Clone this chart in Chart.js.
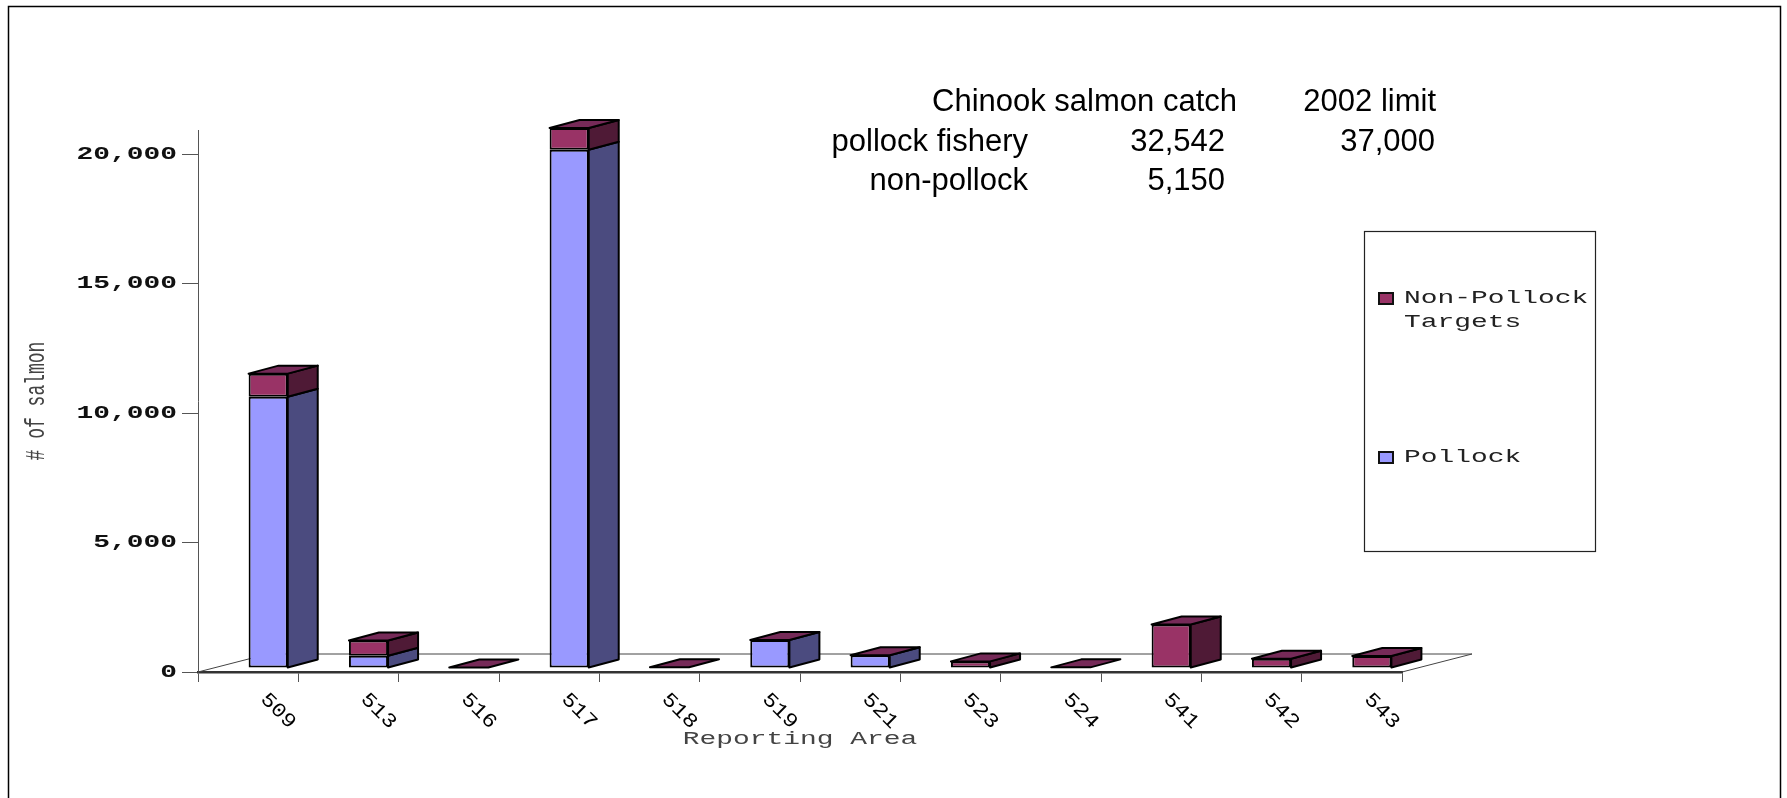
<!DOCTYPE html>
<html lang="en">
<head>
<meta charset="UTF-8">
<title>Chinook salmon catch by reporting area</title>
<script src="https://cdn.jsdelivr.net/npm/chart.js"></script>
<style>
    html, body {
        margin: 0;
        padding: 0;
        background: #fff;
    }
    canvas {
        display: block;
    }
</style>
</head>
<body>
<canvas id="salmonChart" width="1787" height="798"></canvas>
<script>
// data
const areas = ['509', '513', '516', '517', '518', '519', '521', '523', '524', '541', '542', '543'];
const pollock = [10480, 470, 0, 20020, 0, 1080, 490, 0, 0, 0, 0, 0];
const nonPollock = [890, 590, 15, 840, 30, 5, 5, 255, 25, 1680, 355, 460];
const yTicks = [0, 5000, 10000, 15000, 20000];
const yMax = 20935;
const tableHeader = ['Chinook salmon catch', '2002 limit'];
const tableRows = [
    ['pollock fishery', '32,542', '37,000'],
    ['non-pollock', '5,150', '']
];

const MONO = '"Liberation Mono", "DejaVu Sans Mono", monospace';
const STRETCH = 1.55;          // the old picture's mono text is drawn wide
const SHIFT_X = 20, SHIFT_Y = -4;   // bars stand a little back on the floor
const DEPTH_X = 30, DEPTH_Y = -8;   // bar depth
const FLOOR_X = 70, FLOOR_Y = -18;  // floor depth
const sideColors = ['#4b4b7f', '#4f1a36'];
const topColor = '#762a58';

function stretched(ctx, px, fn) {
    ctx.save();
    ctx.translate(px, 0);
    ctx.scale(STRETCH, 1);
    ctx.translate(-px, 0);
    fn();
    ctx.restore();
}

function poly(ctx, pts, fill) {
    ctx.beginPath();
    ctx.moveTo(pts[0][0], pts[0][1]);
    for (let k = 1; k < pts.length; k++) ctx.lineTo(pts[k][0], pts[k][1]);
    ctx.closePath();
    ctx.fillStyle = fill;
    ctx.fill();
    ctx.stroke();
}

const wideText = {
    id: 'wideText',
    beforeDraw(chart) {
        const y = chart.scales.y, x = chart.scales.x;
        if (!y._wide) {
            const labels = y.drawLabels, yTitle = y.drawTitle;
            y.drawLabels = function (area) {
                stretched(this.ctx, chart.chartArea.left - 16 - 5, () => labels.call(this, area));
            };
            y.drawTitle = function () {
                stretched(this.ctx, this.left + 26 + 18 * 1.2 / 2, () => yTitle.call(this));
            };
            y._wide = true;
        }
        if (!x._wide) {
            const xTitle = x.drawTitle;
            x.drawTitle = function () {
                stretched(this.ctx, (this.left + this.right) / 2, () => xTitle.call(this));
            };
            x._wide = true;
        }
    }
};

const bars3d = {
    id: 'bars3d',
    beforeDatasetsDraw(chart) {
        const {ctx, chartArea: a} = chart;
        ctx.save();
        ctx.strokeStyle = '#444';
        ctx.lineWidth = 1;
        ctx.beginPath();
        ctx.moveTo(a.left, a.bottom);
        ctx.lineTo(a.left + FLOOR_X, a.bottom + FLOOR_Y);
        ctx.lineTo(a.right + FLOOR_X, a.bottom + FLOOR_Y);
        ctx.lineTo(a.right, a.bottom);
        ctx.stroke();
        ctx.restore();
        ctx.save();
        ctx.translate(SHIFT_X, SHIFT_Y);
    },
    afterDatasetsDraw(chart) {
        const ctx = chart.ctx;
        ctx.strokeStyle = '#000';
        ctx.lineWidth = 2;
        ctx.lineJoin = 'round';
        for (let i = 0; i < areas.length; i++) {
            let topY = Infinity, xl = 0, xr = 0;
            chart.data.datasets.forEach((ds, d) => {
                const bar = chart.getDatasetMeta(d).data[i];
                const p = bar.getProps(['x', 'y', 'base', 'width'], true);
                const r = p.x + p.width / 2;
                if (Math.abs(p.base - p.y) > 0.5) {
                    poly(ctx, [[r, p.y], [r + DEPTH_X, p.y + DEPTH_Y], [r + DEPTH_X, p.base + DEPTH_Y], [r, p.base]], sideColors[d]);
                }
                topY = Math.min(topY, p.y, p.base);
                xl = p.x - p.width / 2;
                xr = r;
            });
            poly(ctx, [[xl, topY], [xl + DEPTH_X, topY + DEPTH_Y], [xr + DEPTH_X, topY + DEPTH_Y], [xr, topY]], topColor);
        }
        ctx.restore();
    },
    afterDraw(chart) {
        const ctx = chart.ctx;
        const xs = chart.scales.x;
        ctx.save();

        // frame round the picture
        ctx.strokeStyle = '#000';
        ctx.lineWidth = 1.5;
        ctx.strokeRect(8.5, 6.5, 1772, 900);

        // rotated category labels
        ctx.fillStyle = '#000';
        ctx.font = '20px ' + MONO;
        ctx.textAlign = 'center';
        ctx.textBaseline = 'middle';
        areas.forEach((lab, i) => {
            const cx = xs.getPixelForValue(i);
            ctx.save();
            ctx.translate(cx + 30, 711);
            ctx.rotate(Math.PI / 4);
            ctx.scale(1.15, 1);
            ctx.fillText(lab, 0, 0);
            ctx.restore();
        });

        // legend box
        ctx.strokeStyle = '#222';
        ctx.lineWidth = 1.2;
        ctx.strokeRect(1364.5, 231.5, 231, 320);
        const items = chart.data.datasets.slice().reverse();
        const itemY = [298, 457];
        items.forEach((ds, k) => {
            const yy = itemY[k];
            ctx.fillStyle = ds.backgroundColor;
            ctx.strokeStyle = '#111';
            ctx.lineWidth = 2;
            ctx.fillRect(1379, yy - 5, 14, 11);
            ctx.strokeRect(1379, yy - 5, 14, 11);
            ctx.fillStyle = '#222';
            ctx.textAlign = 'left';
            ctx.textBaseline = 'middle';
            ctx.font = '18px ' + MONO;
            ds.label.split(' ').forEach((line, j) => {
                stretched(ctx, 1404, () => ctx.fillText(line, 1404, yy + j * 24));
            });
        });

        // catch table
        ctx.fillStyle = '#000';
        ctx.font = '31px "Liberation Sans", Arial, sans-serif';
        ctx.textAlign = 'right';
        ctx.textBaseline = 'alphabetic';
        ctx.fillText(tableHeader[0], 1237, 111);
        ctx.fillText(tableHeader[1], 1436, 111);
        const colRight = [1028, 1225, 1435];
        tableRows.forEach((row, r) => {
            row.forEach((txt, c) => {
                if (txt) ctx.fillText(txt, colRight[c], 151 + r * 39);
            });
        });
        ctx.restore();
    }
};

const ctx = document.getElementById('salmonChart').getContext('2d');
new Chart(ctx, {
    type: 'bar',
    data: {
        labels: areas,
        datasets: [
            {
                label: 'Pollock',
                data: pollock,
                backgroundColor: '#9999ff',
                borderColor: '#000',
                borderWidth: 2,
                borderSkipped: false,
                clip: false
            },
            {
                label: 'Non-Pollock Targets',
                data: nonPollock,
                backgroundColor: '#993366',
                borderColor: '#000',
                borderWidth: 2,
                borderSkipped: false,
                clip: false
            }
        ]
    },
    options: {
        responsive: false,
        animation: false,
        barPercentage: 0.39,
        categoryPercentage: 1,
        layout: {
            padding: { left: 0, right: 385, top: 130, bottom: 0 }
        },
        plugins: {
            legend: { display: false },
            tooltip: { enabled: false }
        },
        scales: {
            x: {
                stacked: true,
                offset: true,
                grid: {
                    display: true,
                    offset: true,
                    drawOnChartArea: false,
                    drawTicks: true,
                    tickLength: 10,
                    color: '#555'
                },
                border: { display: true, color: '#333', width: 2.5 },
                ticks: { display: false },
                title: {
                    display: true,
                    text: 'Reporting Area',
                    color: '#444',
                    font: { family: MONO, size: 18 },
                    padding: { top: 0, bottom: 48 }
                },
                afterFit(scale) { scale.height = 126; }
            },
            y: {
                stacked: true,
                min: 0,
                max: yMax,
                grid: {
                    display: true,
                    drawOnChartArea: false,
                    drawTicks: true,
                    tickLength: 16,
                    color: '#555'
                },
                border: { display: true, color: '#555', width: 1 },
                ticks: {
                    padding: 5,
                    color: '#111',
                    font: { family: MONO, size: 18, weight: 'bold' },
                    callback: v => Number(v).toLocaleString('en-US')
                },
                afterBuildTicks(scale) {
                    scale.ticks = yTicks.map(v => ({ value: v }));
                },
                title: {
                    display: true,
                    text: '# of salmon',
                    color: '#444',
                    font: { family: MONO, size: 18 },
                    padding: { top: 26, bottom: 0 }
                },
                afterFit(scale) { scale.width = 198; }
            }
        }
    },
    plugins: [wideText, bars3d]
});
</script>
</body>
</html>
